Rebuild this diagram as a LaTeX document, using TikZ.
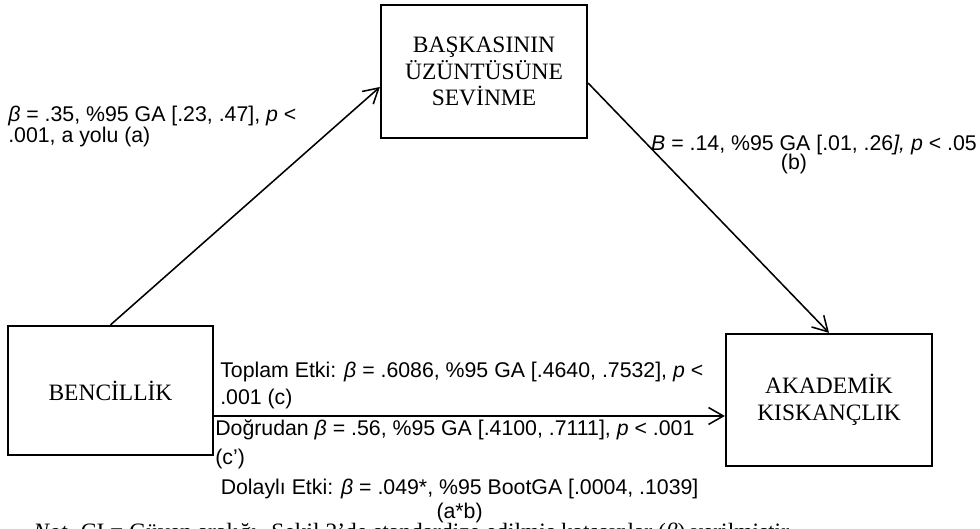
\documentclass[tikz,border=0pt]{standalone}
\usepackage{fontspec}
\setmainfont{Liberation Serif}
\newfontfamily\arialfont{Liberation Sans}
\usetikzlibrary{arrows.meta}

\begin{document}
\begin{tikzpicture}[
    box/.style={draw, line width=1.6pt, minimum width=5.15cm, minimum height=3.3cm,
        align=center, inner sep=0pt, font=\fontsize{16.7}{18.8}\selectfont},
    lbl/.style={inner sep=0pt, align=left, font=\arialfont\fontsize{15.15}{#1}\selectfont},
    arr/.style={line width=1.1pt, -{Straight Barb[length=10.5pt,width=12pt]}}
]

    % Page frame
    \useasboundingbox (0,0) rectangle (24.5,13.225);

    % Variables
    \node[box, minimum height=3.325cm] (med) at (12.1, 11.4375) {BAŞKASININ\\ÜZÜNTÜSÜNE\\SEVİNME};
    \node[box, minimum width=5.125cm, minimum height=3.225cm] (benc) at (2.7625, 3.4625) {BENCİLLİK};
    \node[box] (akad) at (20.725, 3.225) {AKADEMİK\\KISKANÇLIK};

    % Paths a and b
    \draw[arr] (benc.north) -- ([yshift=-0.3875cm]med.west);
    \draw[arr] ([yshift=-0.29cm]med.east) -- (akad.north);

    % Path c
    \coordinate (cstart) at ([yshift=-0.6375cm]benc.east);
    \draw[arr] (cstart) -- (cstart -| akad.west);

    % Path labels (base = last line)
    \node[lbl=13.8pt, anchor=base west] (lbla) at (0.2, 9.65)
        {{\itshape β} = .35, \%95 GA [.23, .47], {\itshape p} <\\.001, a yolu (a)};
    \node[lbl=14.2pt, align=center, anchor=base] (lblb) at (20.35, 8.975)
        {{\itshape B} = .14, \%95 GA [.01, .26{\itshape ],} {\itshape p} < .05\\(b)\hspace*{1.0cm}};
    \node[lbl=19.8pt, anchor=base west] (lblc) at (5.5, 3.1)
        {Toplam Etki: {\itshape β} = .6086, \%95 GA [.4640, .7532], {\itshape p} <\\.001 (c)};
    \node[lbl=21.3pt, anchor=base west] (lblcp) at (5.375, 1.6)
        {Doğrudan {\itshape β} = .56, \%95 GA [.4100, .7111], {\itshape p} < .001\\(c’)};
    \node[lbl=17.7pt, align=center, anchor=base] (lblab) at (11.49, 0.25)
        {Dolaylı Etki: {\itshape β} = .049*, \%95 BootGA [.0004, .1039]\\(a*b)};

    % Note (cut by the page edge)
    \node[inner sep=0pt, anchor=base west, font=\fontsize{16.7}{18.8}\selectfont] (note) at (0.825, -0.275)
        {\textit{Not.} CI = Güven aralığı. Şekil 2’de standardize edilmiş katsayılar ({\itshape β}) verilmiştir.};

\end{tikzpicture}
\end{document}
